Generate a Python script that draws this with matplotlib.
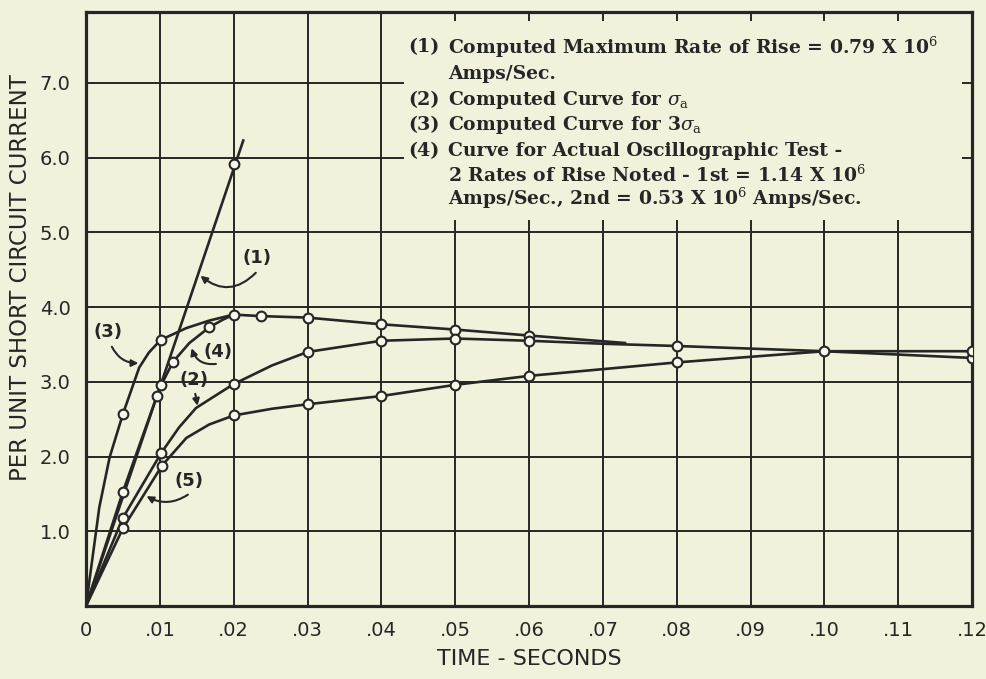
import numpy as np
import matplotlib
matplotlib.use("Agg")
import matplotlib.pyplot as plt
from matplotlib.patches import Rectangle

plt.rcParams["mathtext.fontset"] = "dejavuserif"

BG = "#f2f1dc"
INK = "#262626"

# ---------------- data ----------------
x_ticks = [0.0, 0.01, 0.02, 0.03, 0.04, 0.05, 0.06, 0.07, 0.08, 0.09, 0.10, 0.11, 0.12]
x_tick_labels = ["0", ".01", ".02", ".03", ".04", ".05", ".06", ".07", ".08", ".09", ".10", ".11", ".12"]
y_ticks = [1, 2, 3, 4, 5, 6, 7]
y_tick_labels = ["1.0", "2.0", "3.0", "4.0", "5.0", "6.0", "7.0"]

# (1) computed maximum rate of rise (straight line)
line1_x = [0.0, 0.0213]
line1_y = [0.0, 6.23]
line1_mx = [0.0201]
line1_my = [5.91]

# (3) computed curve for 3 sigma_a
c3_x = [0.0, 0.0018, 0.0032, 0.005, 0.0072, 0.0085, 0.0101, 0.0136, 0.0167, 0.02, 0.0237, 0.03, 0.04, 0.05, 0.06, 0.073]
c3_y = [0.0, 1.32, 1.99, 2.57, 3.19, 3.39, 3.56, 3.72, 3.82, 3.90, 3.88, 3.86, 3.77, 3.70, 3.62, 3.52]
c3_mx = [0.005, 0.0101, 0.02, 0.0237, 0.03, 0.04, 0.05, 0.06]
c3_my = [2.57, 3.56, 3.90, 3.88, 3.86, 3.77, 3.70, 3.62]

# (4) actual oscillographic test
c4_x = [0.0, 0.005, 0.0096, 0.0102, 0.0118, 0.014, 0.0167, 0.0185, 0.02]
c4_y = [0.0, 1.53, 2.81, 2.96, 3.27, 3.52, 3.73, 3.83, 3.90]
c4_mx = [0.005, 0.0096, 0.0102, 0.0118, 0.0167]
c4_my = [1.53, 2.81, 2.96, 3.27, 3.73]

# (2) computed curve for sigma_a
c2_x = [0.0, 0.005, 0.0102, 0.0126, 0.0149, 0.0176, 0.02, 0.0252, 0.03, 0.04, 0.05, 0.06, 0.07, 0.08, 0.10, 0.12]
c2_y = [0.0, 1.18, 2.05, 2.39, 2.65, 2.82, 2.97, 3.22, 3.40, 3.55, 3.58, 3.55, 3.51, 3.48, 3.41, 3.32]
c2_mx = [0.005, 0.0102, 0.02, 0.03, 0.04, 0.05, 0.06, 0.08, 0.10, 0.12]
c2_my = [1.18, 2.05, 2.97, 3.40, 3.55, 3.58, 3.55, 3.48, 3.41, 3.32]

# (5)
c5_x = [0.0, 0.005, 0.0103, 0.0136, 0.0167, 0.02, 0.0252, 0.03, 0.04, 0.05, 0.06, 0.08, 0.10, 0.12]
c5_y = [0.0, 1.04, 1.88, 2.25, 2.43, 2.55, 2.64, 2.70, 2.81, 2.96, 3.08, 3.26, 3.41, 3.41]
c5_mx = [0.005, 0.0103, 0.02, 0.03, 0.04, 0.05, 0.06, 0.08, 0.12]
c5_my = [1.04, 1.88, 2.55, 2.70, 2.81, 2.96, 3.08, 3.26, 3.41]

legend_lines = [
    ("(1)", "Computed Maximum Rate of Rise = 0.79 X 10$^6$"),
    ("", "Amps/Sec."),
    ("(2)", r"Computed Curve for $\sigma_{\rm a}$"),
    ("(3)", r"Computed Curve for 3$\sigma_{\rm a}$"),
    ("(4)", "Curve for Actual Oscillographic Test -"),
    ("", "2 Rates of Rise Noted - 1st = 1.14 X 10$^6$"),
    ("", "Amps/Sec., 2nd = 0.53 X 10$^6$ Amps/Sec."),
]

# ---------------- figure ----------------
fig = plt.figure(figsize=(9.86, 6.79), dpi=100, facecolor=BG)
ax = fig.add_axes([86 / 986, (679 - 606) / 679, (972 - 86) / 986, (606 - 12) / 679])
ax.set_facecolor(BG)
ax.set_xlim(0, 0.12)
ax.set_ylim(0, 7.95)

ax.set_xticks(x_ticks)
ax.set_xticklabels(x_tick_labels)
ax.set_yticks(y_ticks)
ax.set_yticklabels(y_tick_labels)
ax.tick_params(length=0, labelsize=14, colors=INK, pad=11)
ax.set_axisbelow(True)
ax.grid(True, color=INK, lw=1.4)
for s in ax.spines.values():
    s.set_linewidth(2.3)
    s.set_color(INK)

fig.text(21 / 986, 1 - 278 / 679, "PER UNIT SHORT CIRCUIT CURRENT", rotation=90,
         fontsize=16.5, color=INK, ha="center", va="center")
ax.set_xlabel("TIME - SECONDS", fontsize=16, color=INK, labelpad=6)

# legend box covering the grid
ax.add_patch(Rectangle((0.0431, 5.16), 0.1186 - 0.0431, 7.83 - 5.16,
                       facecolor=BG, edgecolor="none", zorder=1))

line_kw = dict(color=INK, lw=1.9, zorder=3)
mark_kw = dict(ls="none", marker="o", ms=7, mfc="#f7f7ea", mec=INK, mew=1.5, zorder=4)

ax.plot(line1_x, line1_y, **line_kw)
ax.plot(line1_mx, line1_my, **mark_kw)
for cx, cy, mx, my in [(c3_x, c3_y, c3_mx, c3_my), (c4_x, c4_y, c4_mx, c4_my),
                       (c2_x, c2_y, c2_mx, c2_my), (c5_x, c5_y, c5_mx, c5_my)]:
    ax.plot(cx, cy, **line_kw)
    ax.plot(mx, my, **mark_kw)

# curve labels with curved arrows
lab_kw = dict(fontsize=13, fontweight="bold", color=INK, ha="center", va="center", zorder=5)
arr = lambda rad: dict(arrowstyle="-|>", color=INK, lw=1.5, mutation_scale=10,
                       connectionstyle=f"arc3,rad={rad}", shrinkA=0, shrinkB=0)
labels = [("(1)", (0.0232, 4.66), (0.0230, 4.46), (0.0155, 4.42), -0.45),
          ("(3)", (0.0030, 3.67), (0.0035, 3.47), (0.0071, 3.25), 0.3),
          ("(4)", (0.0179, 3.40), (0.0176, 3.24), (0.0143, 3.45), -0.4),
          ("(2)", (0.0146, 3.03), (0.0148, 2.84), (0.0151, 2.68), 0.0),
          ("(5)", (0.0140, 1.67), (0.0138, 1.49), (0.0082, 1.47), -0.3)]
for txt, tpos, start, end, rad in labels:
    ax.text(*tpos, txt, **lab_kw)
    ax.annotate("", xy=end, xytext=start, arrowprops=arr(rad), zorder=5)

# legend text
ys = [7.48, 7.12, 6.77, 6.44, 6.09, 5.77, 5.45]
for (num, txt), yy in zip(legend_lines, ys):
    if num:
        ax.text(0.0436, yy, num, fontsize=13.8, fontweight="bold", family="DejaVu Serif",
                color=INK, va="center", ha="left", zorder=5)
    ax.text(0.0490, yy, txt, fontsize=13.5, fontweight="bold", family="DejaVu Serif",
            color=INK, va="center", ha="left", zorder=5)

fig.savefig("out.png", dpi=100, facecolor=BG)
